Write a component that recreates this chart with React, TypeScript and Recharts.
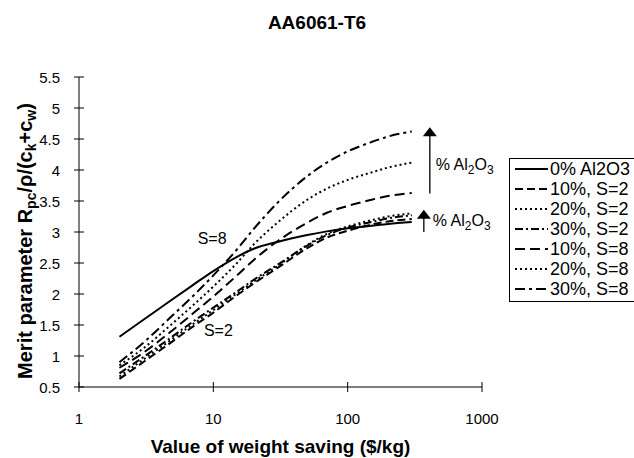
import React from 'react';
import { LineChart, Line, XAxis, YAxis, ReferenceLine, ReferenceDot, Legend } from 'recharts';

// value of weight saving ($/kg)
const xValues = [2, 3, 5, 7, 10, 15, 20, 30, 50, 70, 100, 150, 200, 300];

const al0 = [1.31, 1.58, 1.92, 2.14, 2.37, 2.6, 2.73, 2.84, 2.95, 3.01, 3.06, 3.1, 3.13, 3.16];
const s2_10 = [0.63, 0.9, 1.24, 1.47, 1.7, 1.98, 2.17, 2.42, 2.74, 2.91, 3.02, 3.12, 3.17, 3.21];
const s2_20 = [0.67, 0.94, 1.28, 1.51, 1.74, 2.01, 2.2, 2.45, 2.79, 2.97, 3.09, 3.19, 3.25, 3.3];
const s2_30 = [0.72, 0.98, 1.32, 1.55, 1.78, 2.04, 2.23, 2.47, 2.78, 2.95, 3.07, 3.16, 3.22, 3.27];
const s8_10 = [0.81, 1.05, 1.42, 1.68, 1.96, 2.3, 2.55, 2.85, 3.15, 3.31, 3.42, 3.52, 3.58, 3.63];
const s8_20 = [0.85, 1.12, 1.53, 1.81, 2.12, 2.5, 2.8, 3.15, 3.52, 3.7, 3.84, 3.96, 4.04, 4.12];
const s8_30 = [0.9, 1.21, 1.66, 1.96, 2.3, 2.72, 3.05, 3.47, 3.9, 4.12, 4.3, 4.45, 4.54, 4.62];

const xTicks = [1, 10, 100, 1000];
const yTicks = [0.5, 1, 1.5, 2, 2.5, 3, 3.5, 4, 4.5, 5, 5.5];

const series = [
  { key: 'al0', name: '0% Al2O3', values: al0, dash: undefined as string | undefined },
  { key: 's2_10', name: '10%, S=2', values: s2_10, dash: '8 4' },
  { key: 's2_20', name: '20%, S=2', values: s2_20, dash: '2 3' },
  { key: 's2_30', name: '30%, S=2', values: s2_30, dash: '8 3 2 3' },
  { key: 's8_10', name: '10%, S=8', values: s8_10, dash: '10 5' },
  { key: 's8_20', name: '20%, S=8', values: s8_20, dash: '2 3' },
  { key: 's8_30', name: '30%, S=8', values: s8_30, dash: '10 4 3 4' },
];

const data = xValues.map((x, i) => {
  const row: Record<string, number> = { x };
  series.forEach((s) => {
    row[s.key] = s.values[i];
  });
  return row;
});

const FONT = '"Liberation Sans", Arial, Helvetica, sans-serif';

const XTick = (props: any) => {
  const { x, y, payload } = props;
  return (
    <g>
      <line x1={x} x2={x} y1={y - 14} y2={y - 9} stroke="#000" />
      <text x={x} y={y} dy={28} textAnchor="middle" fontSize={15} fontFamily={FONT} fill="#000">
        {payload.value}
      </text>
    </g>
  );
};

const YTick = (props: any) => {
  const { x, y, payload } = props;
  return (
    <g>
      <line x1={x + 19} x2={x + 24} y1={y} y2={y} stroke="#000" />
      <text x={x} y={y} dy={5.5} textAnchor="end" fontSize={15} fontFamily={FONT} fill="#000">
        {payload.value}
      </text>
    </g>
  );
};

const YTitle = (props: any) => {
  const vb = props.viewBox || { x: 0, y: 0, width: 0, height: 0 };
  const cx = 27;
  const cy = vb.y + vb.height / 2 + 9;
  return (
    <text
      x={cx}
      y={cy}
      transform={`rotate(-90, ${cx}, ${cy})`}
      textAnchor="middle"
      dominantBaseline="middle"
      fontSize={20}
      fontWeight="bold"
      fontFamily={FONT}
      fill="#000"
    >
      Merit parameter R<tspan dy={5} fontSize={14}>pc</tspan>
      <tspan dy={-5}>/ρ/(c</tspan>
      <tspan dy={5} fontSize={14}>k</tspan>
      <tspan dy={-5}>+c</tspan>
      <tspan dy={5} fontSize={14}>w</tspan>
      <tspan dy={-5}>)</tspan>
    </text>
  );
};

const XTitle = (props: any) => {
  const vb = props.viewBox || { x: 0, y: 0, width: 0, height: 0 };
  return (
    <text
      x={vb.x + vb.width / 2}
      y={453}
      textAnchor="middle"
      fontSize={19}
      fontWeight="bold"
      fontFamily={FONT}
      fill="#000"
    >
      Value of weight saving ($/kg)
    </text>
  );
};

const Arrow = (props: any) => {
  const { x1, y1, x2, y2, textDx = 6, textDy = 5 } = props;
  const mid = (y1 + y2) / 2;
  return (
    <g>
      <line x1={x1} y1={y1} x2={x2} y2={y2 + 8} stroke="#000" strokeWidth={1.3} />
      <polygon points={`${x2},${y2} ${x2 - 7},${y2 + 9} ${x2 + 7},${y2 + 9}`} fill="#000" />
      <text x={x2 + textDx} y={mid + textDy} fontSize={16} fontFamily={FONT} fill="#000">
        % Al<tspan dy={4} fontSize={12}>2</tspan>
        <tspan dy={-4}>O</tspan>
        <tspan dy={4} fontSize={12}>3</tspan>
      </text>
    </g>
  );
};

const LegendBox = () => (
  <div
    style={{
      border: '1px solid #000',
      background: '#fff',
      padding: '0 0 2px 5px',
      width: 150,
      fontFamily: FONT,
    }}
  >
    {series.map((s) => (
      <div key={s.key} style={{ display: 'flex', alignItems: 'center', height: 20 }}>
        <svg width={34} height={10} style={{ flex: 'none' }}>
          <line x1={0} y1={5} x2={33} y2={5} stroke="#000" strokeWidth={2} strokeDasharray={s.dash} />
        </svg>
        <span style={{ fontSize: 18, marginLeft: 1, color: '#000', whiteSpace: 'nowrap' }}>{s.name}</span>
      </div>
    ))}
  </div>
);

export default function App() {
  return (
    <div
      style={{
        position: 'absolute',
        left: 0,
        top: 0,
        width: 634,
        height: 458,
        overflow: 'hidden',
        background: '#fff',
        fontFamily: FONT,
      }}
    >
      <div
        style={{
          position: 'absolute',
          top: 12,
          left: 0,
          width: 634,
          textAlign: 'center',
          fontSize: 19,
          fontWeight: 'bold',
          color: '#000',
        }}
      >
        AA6061-T6
      </div>
      <LineChart width={634} height={458} data={data} margin={{ top: 77, right: 152, bottom: 41, left: 14 }}>
        <XAxis
          dataKey="x"
          type="number"
          scale="log"
          domain={[1, 1000]}
          ticks={xTicks}
          allowDataOverflow
          stroke="#000"
          tickSize={5}
          tickMargin={4}
          height={30}
          tick={<XTick />}
          label={{ content: <XTitle /> }}
        />
        <YAxis
          type="number"
          domain={[0.5, 5.5]}
          ticks={yTicks}
          interval={0}
          allowDataOverflow
          stroke="#000"
          tickSize={5}
          tickMargin={14}
          width={65}
          tick={<YTick />}
          label={{ content: <YTitle /> }}
        />
        {series.map((s) => (
          <Line
            key={s.key}
            dataKey={s.key}
            name={s.name}
            type="monotone"
            stroke="#000"
            strokeWidth={2}
            strokeDasharray={s.dash}
            dot={false}
            isAnimationActive={false}
          />
        ))}
        <ReferenceLine
          segment={[
            { x: 409, y: 3.62 },
            { x: 409, y: 4.69 },
          ]}
          shape={<Arrow textDx={6} textDy={10} />}
          ifOverflow="visible"
        />
        <ReferenceLine
          segment={[
            { x: 369, y: 3.0 },
            { x: 369, y: 3.36 },
          ]}
          shape={<Arrow textDx={9} textDy={5} />}
          ifOverflow="visible"
        />
        <ReferenceDot
          x={9.8}
          y={2.9}
          r={0}
          ifOverflow="visible"
          label={{ value: 'S=8', position: 'center', fontSize: 16, fill: '#000', fontFamily: FONT }}
        />
        <ReferenceDot
          x={10.9}
          y={1.42}
          r={0}
          ifOverflow="visible"
          label={{ value: 'S=2', position: 'center', fontSize: 16, fill: '#000', fontFamily: FONT }}
        />
        <Legend
          layout="vertical"
          align="center"
          verticalAlign="middle"
          wrapperStyle={{ left: 509, top: 158, width: 150 }}
          content={<LegendBox />}
        />
      </LineChart>
    </div>
  );
}
